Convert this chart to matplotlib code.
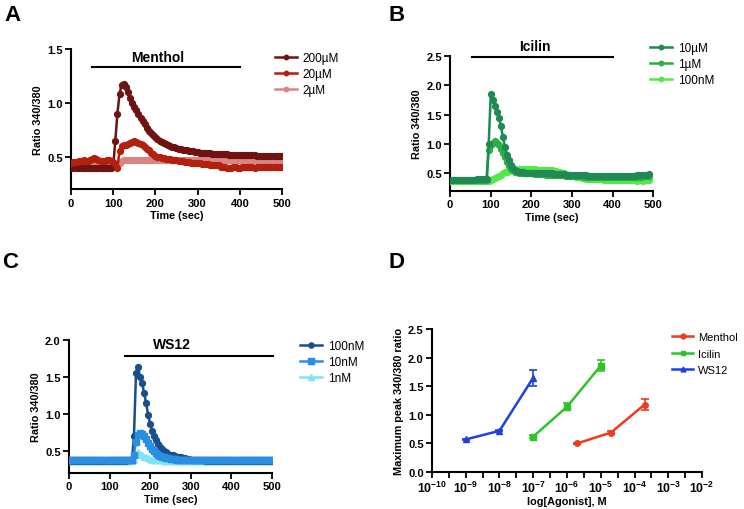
import numpy as np
import matplotlib
matplotlib.use("Agg")
import matplotlib.pyplot as plt
from matplotlib import font_manager as fm

# keep the narrow Liberation variant from being picked for bold text
fm.fontManager.ttflist = [f for f in fm.fontManager.ttflist if 'Narrow' not in f.fname]
plt.rcParams['font.family'] = ['Liberation Sans', 'DejaVu Sans']
plt.rcParams['mathtext.fontset'] = 'custom'
plt.rcParams['mathtext.rm'] = 'Liberation Sans'
plt.rcParams['mathtext.bf'] = 'Liberation Sans:bold'

# ---- panel A: menthol traces (time step 5 s) ----
t_a = np.arange(0, 505, 5)
menthol_200uM = [
    0.40, 0.40, 0.41, 0.40, 0.40, 0.40, 0.40, 0.40, 0.40, 0.40, 0.40, 0.40, 0.40, 0.40, 0.40, 0.40, 0.40, 0.40, 0.40, 0.40, 0.41,
    0.65, 0.90, 1.08, 1.17, 1.18, 1.15, 1.10, 1.05, 1.00, 0.96, 0.93, 0.90, 0.86, 0.83, 0.80, 0.77, 0.74, 0.72, 0.70, 0.68,
    0.665, 0.65, 0.64, 0.63, 0.62, 0.61, 0.60, 0.595, 0.59, 0.58, 0.575, 0.57, 0.565, 0.56, 0.56, 0.555, 0.55, 0.55, 0.545, 0.545,
    0.54, 0.54, 0.54, 0.535, 0.535, 0.535, 0.53, 0.53, 0.53, 0.53, 0.525, 0.525, 0.525, 0.525, 0.52, 0.52, 0.52, 0.52, 0.52, 0.52,
    0.52, 0.515, 0.515, 0.515, 0.515, 0.515, 0.515, 0.51, 0.51, 0.51, 0.51, 0.51, 0.51, 0.51, 0.51, 0.51, 0.51, 0.51, 0.51, 0.51]
menthol_20uM = [
    0.44, 0.45, 0.45, 0.45, 0.46, 0.46, 0.47, 0.46, 0.46, 0.47, 0.48, 0.49, 0.48, 0.47, 0.46, 0.46, 0.46, 0.47, 0.47, 0.46, 0.45,
    0.43, 0.40, 0.55, 0.60, 0.61, 0.61, 0.62, 0.63, 0.64, 0.65, 0.64, 0.63, 0.62, 0.61, 0.59, 0.57, 0.56, 0.54, 0.53, 0.51,
    0.50, 0.50, 0.49, 0.49, 0.48, 0.48, 0.48, 0.47, 0.47, 0.47, 0.46, 0.46, 0.46, 0.45, 0.45, 0.45, 0.44, 0.44, 0.44, 0.44,
    0.44, 0.43, 0.43, 0.43, 0.43, 0.42, 0.42, 0.42, 0.42, 0.42, 0.41, 0.41, 0.41, 0.40, 0.40, 0.40, 0.41, 0.41, 0.40, 0.40,
    0.41, 0.41, 0.41, 0.41, 0.41, 0.41, 0.40, 0.41, 0.41, 0.41, 0.41, 0.41, 0.41, 0.41, 0.41, 0.41, 0.41, 0.41, 0.41, 0.41]
menthol_2uM = [
    0.43, 0.43, 0.43, 0.43, 0.43, 0.43, 0.43, 0.43, 0.43, 0.43, 0.43, 0.43, 0.43, 0.43, 0.43, 0.43, 0.43, 0.43, 0.43, 0.43, 0.43,
    0.43, 0.43, 0.44, 0.46, 0.47, 0.47, 0.47, 0.47, 0.47, 0.47, 0.47, 0.47, 0.47, 0.47, 0.47, 0.47, 0.47, 0.47, 0.47, 0.47,
    0.47, 0.47, 0.47, 0.47, 0.47, 0.47, 0.47, 0.47, 0.47, 0.47, 0.47, 0.47, 0.47, 0.47, 0.47, 0.47, 0.47, 0.47, 0.47, 0.47,
    0.47, 0.47, 0.47, 0.47, 0.47, 0.47, 0.47, 0.47, 0.47, 0.47, 0.47, 0.47, 0.47, 0.47, 0.47, 0.47, 0.47, 0.47, 0.47, 0.47,
    0.47, 0.47, 0.47, 0.47, 0.47, 0.47, 0.47, 0.47, 0.47, 0.47, 0.47, 0.47, 0.47, 0.47, 0.47, 0.47, 0.47, 0.47, 0.47, 0.47]

# ---- panel B: icilin traces ----
t_b = np.arange(0, 495, 5)
icilin_10uM = [
    0.38, 0.38, 0.39, 0.38, 0.38, 0.38, 0.38, 0.39, 0.39, 0.39, 0.39, 0.39, 0.39, 0.40, 0.40, 0.40, 0.40, 0.40, 0.40,
    1.00, 1.85, 1.75, 1.65, 1.55, 1.45, 1.30, 1.12, 0.95, 0.82, 0.72, 0.64, 0.59, 0.56, 0.54, 0.53, 0.52, 0.52, 0.51, 0.51,
    0.51, 0.51, 0.51, 0.51, 0.50, 0.50, 0.50, 0.50, 0.50, 0.50, 0.50, 0.50, 0.49, 0.49, 0.49, 0.49, 0.49, 0.49, 0.48, 0.48,
    0.48, 0.48, 0.48, 0.47, 0.47, 0.47, 0.47, 0.47, 0.47, 0.46, 0.46, 0.46, 0.46, 0.46, 0.46, 0.46, 0.46, 0.46, 0.46, 0.46,
    0.46, 0.46, 0.46, 0.46, 0.46, 0.46, 0.46, 0.46, 0.46, 0.46, 0.46, 0.46, 0.46, 0.47, 0.47, 0.47, 0.47, 0.47, 0.48, 0.49]
icilin_1uM = [
    0.39, 0.39, 0.38, 0.39, 0.39, 0.39, 0.38, 0.39, 0.39, 0.39, 0.39, 0.39, 0.39, 0.39, 0.39, 0.39, 0.39, 0.39, 0.39,
    0.90, 0.98, 1.02, 1.05, 1.02, 0.98, 0.92, 0.85, 0.78, 0.70, 0.63, 0.58, 0.55, 0.53, 0.52, 0.51, 0.51, 0.50, 0.50, 0.50,
    0.50, 0.50, 0.50, 0.49, 0.49, 0.49, 0.49, 0.49, 0.48, 0.48, 0.48, 0.48, 0.48, 0.47, 0.47, 0.47, 0.47, 0.47, 0.46, 0.46,
    0.46, 0.46, 0.45, 0.45, 0.45, 0.45, 0.45, 0.44, 0.44, 0.44, 0.44, 0.44, 0.44, 0.44, 0.44, 0.44, 0.44, 0.44, 0.44, 0.44,
    0.44, 0.44, 0.44, 0.44, 0.44, 0.44, 0.44, 0.44, 0.44, 0.44, 0.44, 0.44, 0.44, 0.44, 0.44, 0.44, 0.45, 0.45, 0.45, 0.45]
icilin_100nM = [
    0.37, 0.37, 0.37, 0.37, 0.37, 0.37, 0.37, 0.37, 0.37, 0.37, 0.37, 0.37, 0.37, 0.37, 0.37, 0.37, 0.37, 0.37, 0.37,
    0.37, 0.38, 0.40, 0.42, 0.44, 0.46, 0.48, 0.50, 0.52, 0.53, 0.54, 0.55, 0.55, 0.56, 0.56, 0.57, 0.58, 0.58, 0.58, 0.58,
    0.58, 0.57, 0.57, 0.57, 0.56, 0.56, 0.56, 0.56, 0.55, 0.55, 0.55, 0.55, 0.54, 0.54, 0.53, 0.52, 0.51, 0.50, 0.49, 0.48,
    0.47, 0.46, 0.45, 0.44, 0.43, 0.43, 0.42, 0.42, 0.41, 0.41, 0.41, 0.40, 0.40, 0.40, 0.40, 0.40, 0.40, 0.39, 0.39, 0.39,
    0.39, 0.39, 0.39, 0.38, 0.38, 0.38, 0.38, 0.38, 0.38, 0.38, 0.38, 0.38, 0.38, 0.37, 0.38, 0.38, 0.37, 0.38, 0.38, 0.38]

# ---- panel C: WS12 traces ----
t_c = np.arange(0, 505, 5)
ws12_100nM = [
    0.36, 0.36, 0.36, 0.36, 0.36, 0.36, 0.36, 0.36, 0.36, 0.36, 0.36, 0.36, 0.36, 0.36, 0.36, 0.36, 0.36, 0.36, 0.36, 0.36, 0.36,
    0.36, 0.36, 0.36, 0.36, 0.36, 0.36, 0.36, 0.36, 0.37, 0.37, 0.37, 0.70, 1.55, 1.63, 1.50, 1.42, 1.28, 1.14, 0.98, 0.86,
    0.77, 0.70, 0.64, 0.59, 0.55, 0.52, 0.50, 0.48, 0.46, 0.45, 0.44, 0.43, 0.42, 0.41, 0.41, 0.40, 0.40, 0.39, 0.39, 0.38,
    0.38, 0.38, 0.37, 0.37, 0.37, 0.37, 0.36, 0.36, 0.36, 0.36, 0.36, 0.36, 0.36, 0.36, 0.36, 0.36, 0.36, 0.36, 0.36, 0.36,
    0.36, 0.36, 0.36, 0.36, 0.36, 0.36, 0.36, 0.36, 0.36, 0.36, 0.36, 0.36, 0.36, 0.36, 0.36, 0.36, 0.36, 0.36, 0.36, 0.36]
ws12_10nM = [
    0.37, 0.37, 0.37, 0.37, 0.37, 0.37, 0.37, 0.37, 0.37, 0.37, 0.37, 0.37, 0.37, 0.37, 0.37, 0.37, 0.37, 0.37, 0.37, 0.37, 0.37,
    0.37, 0.37, 0.37, 0.37, 0.37, 0.37, 0.37, 0.37, 0.37, 0.37, 0.37, 0.45, 0.62, 0.72, 0.74, 0.73, 0.70, 0.66, 0.61, 0.57,
    0.53, 0.50, 0.47, 0.45, 0.43, 0.42, 0.41, 0.40, 0.40, 0.39, 0.39, 0.39, 0.38, 0.38, 0.38, 0.38, 0.38, 0.38, 0.38, 0.38,
    0.38, 0.38, 0.38, 0.38, 0.38, 0.38, 0.38, 0.38, 0.38, 0.38, 0.38, 0.38, 0.38, 0.38, 0.38, 0.38, 0.38, 0.38, 0.38, 0.38,
    0.38, 0.38, 0.38, 0.38, 0.38, 0.38, 0.38, 0.38, 0.38, 0.38, 0.38, 0.38, 0.38, 0.38, 0.38, 0.38, 0.38, 0.38, 0.38, 0.38]
ws12_1nM = [
    0.36, 0.36, 0.36, 0.36, 0.36, 0.36, 0.36, 0.36, 0.36, 0.36, 0.36, 0.36, 0.36, 0.36, 0.36, 0.36, 0.36, 0.36, 0.36, 0.36, 0.36,
    0.36, 0.36, 0.36, 0.36, 0.36, 0.36, 0.36, 0.36, 0.36, 0.36, 0.36, 0.38, 0.45, 0.48, 0.46, 0.44, 0.42, 0.41, 0.40, 0.39,
    0.38, 0.38, 0.37, 0.37, 0.37, 0.37, 0.36, 0.36, 0.36, 0.36, 0.36, 0.36, 0.36, 0.36, 0.36, 0.36, 0.36, 0.36, 0.36, 0.36,
    0.36, 0.36, 0.36, 0.36, 0.36, 0.36, 0.36, 0.36, 0.36, 0.36, 0.36, 0.36, 0.36, 0.36, 0.36, 0.36, 0.36, 0.36, 0.36, 0.36,
    0.36, 0.36, 0.36, 0.36, 0.36, 0.36, 0.36, 0.36, 0.36, 0.36, 0.36, 0.36, 0.36, 0.36, 0.36, 0.36, 0.36, 0.36, 0.36, 0.36]

# ---- panel D: dose response ----
menthol_conc = [2e-6, 2e-5, 2e-4]
menthol_peak = [0.50, 0.69, 1.18]
menthol_err = [0.01, 0.02, 0.09]
icilin_conc = [1e-7, 1e-6, 1e-5]
icilin_peak = [0.62, 1.14, 1.86]
icilin_err = [0.03, 0.06, 0.09]
ws12_conc = [1e-9, 1e-8, 1e-7]
ws12_peak = [0.57, 0.72, 1.65]
ws12_err = [0.01, 0.01, 0.14]

LW, MS = 1.8, 4.2
TICK_FS, LAB_FS, LEG_FS = 8, 7.8, 8.5

fig = plt.figure(figsize=(7.44, 5.10), dpi=100)

axA = fig.add_axes([0.0954, 0.627, 0.2836, 0.275])
axB = fig.add_axes([0.605, 0.6235, 0.273, 0.265])
axC = fig.add_axes([0.0927, 0.0706, 0.273, 0.261])
axD = fig.add_axes([0.5806, 0.0725, 0.363, 0.2804])


def style(ax):
    for s in ['top', 'right']:
        ax.spines[s].set_visible(False)
    for s in ['left', 'bottom']:
        ax.spines[s].set_linewidth(1.5)
    ax.tick_params(direction='out', length=4, width=1.3, labelsize=TICK_FS, pad=2)
    for lab in ax.get_xticklabels() + ax.get_yticklabels():
        lab.set_fontweight('bold')


def add_legend(handles, labels, x, y, spacing=0.35, fs=LEG_FS):
    fig.legend(handles, labels, loc='upper left',
               bbox_to_anchor=(x / 744, 1 - y / 510), frameon=False,
               fontsize=fs, borderpad=0, borderaxespad=0, handlelength=1.9,
               handletextpad=0.45, labelspacing=spacing)


def time_axis(ax, ymax, yticks):
    ax.set_xlim(0, 500)
    ax.set_ylim(0.2, ymax)
    ax.set_yticks(yticks)
    ax.set_xticks([0, 100, 200, 300, 400, 500])
    ax.set_ylabel('Ratio 340/380', fontsize=LAB_FS, fontweight='bold', labelpad=3)
    ax.set_xlabel('Time (sec)', fontsize=LAB_FS, fontweight='bold', labelpad=2)


# A
sA = [('200µM', menthol_200uM, '#6e1212'), ('20µM', menthol_20uM, '#b3200f'), ('2µM', menthol_2uM, '#d98585')]
for z, i in enumerate([2, 0, 1]):
    lab, y, c = sA[i]
    axA.plot(t_a, y, '-o', color=c, lw=LW, ms=MS, zorder=3 + z)
time_axis(axA, 1.5, [0.5, 1.0, 1.5])
axA.plot([50, 400], [1.33, 1.33], color='black', lw=1.5, clip_on=False)
axA.text(206, 1.36, 'Menthol', ha='center', va='bottom', fontsize=10, fontweight='bold')
style(axA)
add_legend([plt.Line2D([], [], color=c, marker='o', lw=LW, ms=MS - 1) for _, _, c in sA],
           [s[0] for s in sA], 275, 53)

# B
sB = [('10µM', icilin_10uM, '#1f8a55'), ('1µM', icilin_1uM, '#2eae45'), ('100nM', icilin_100nM, '#55e84a')]
for z, i in enumerate([2, 1, 0]):
    lab, y, c = sB[i]
    axB.plot(t_b, y, '-o', color=c, lw=LW, ms=MS, zorder=3 + z)
time_axis(axB, 2.5, [0.5, 1.0, 1.5, 2.0, 2.5])
axB.plot([55, 400], [2.48, 2.48], color='black', lw=1.5, clip_on=False)
axB.text(209, 2.55, 'Icilin', ha='center', va='bottom', fontsize=10, fontweight='bold')
style(axB)
add_legend([plt.Line2D([], [], color=c, marker='o', lw=LW, ms=MS - 1) for _, _, c in sB],
           [s[0] for s in sB], 650, 43)

# C
sC = [('100nM', ws12_100nM, '#1b4f8c', 'o'), ('10nM', ws12_10nM, '#2a8fe3', 's'), ('1nM', ws12_1nM, '#7fe3f2', '^')]
for z, i in enumerate([2, 0, 1]):
    lab, y, c, m = sC[i]
    axC.plot(t_c, y, '-', marker=m, color=c, lw=LW, ms=MS, zorder=3 + z)
time_axis(axC, 2.0, [0.5, 1.0, 1.5, 2.0])
axC.plot([138, 502], [1.78, 1.78], color='black', lw=1.5, clip_on=False)
axC.text(253, 1.85, 'WS12', ha='center', va='bottom', fontsize=10, fontweight='bold')
style(axC)
add_legend([plt.Line2D([], [], color=c, marker=m, lw=LW, ms=MS - 0.5) for _, _, c, m in sC],
           [s[0] for s in sC], 300, 341)

# D
sD = [('Menthol', menthol_conc, menthol_peak, menthol_err, '#f03a1e', 'o'),
      ('Icilin', icilin_conc, icilin_peak, icilin_err, '#2fc22a', 's'),
      ('WS12', ws12_conc, ws12_peak, ws12_err, '#2040e0', '^')]
for lab, x, y, e, c, m in sD:
    axD.errorbar(x, y, yerr=e, color=c, marker=m, lw=1.8, ms=4, capsize=3, capthick=1.2, elinewidth=1.2)
axD.set_xscale('log')
axD.set_xlim(1e-10, 1e-2)
axD.set_ylim(0, 2.5)
axD.set_yticks([0, 0.5, 1.0, 1.5, 2.0, 2.5])
axD.set_yticklabels(['0.0', '0.5', '1.0', '1.5', '2.0', '2.5'])
decades = list(range(-10, -1))
axD.set_xticks([10.0 ** d for d in decades])
axD.set_xticklabels([r'$\mathbf{10^{%d}}$' % d for d in decades])
axD.set_xticks([10.0 ** (d + 0.5) for d in decades[:-1]], minor=True)
axD.tick_params(which='minor', length=4, width=1.3)
axD.set_ylabel('Maximum peak 340/380 ratio', fontsize=LAB_FS, fontweight='bold', labelpad=3)
axD.set_xlabel('log[Agonist], M', fontsize=LAB_FS, fontweight='bold', labelpad=1)
style(axD)
axD.tick_params(axis='x', which='major', labelsize=8.8, pad=1.5)
add_legend([plt.Line2D([], [], color=s[4], marker=s[5], lw=1.8, ms=3.5) for s in sD],
           [s[0] for s in sD], 672, 333, spacing=0.6, fs=8)

for lab, x, y in [('A', 0.006, 0.99), ('B', 0.522, 0.99), ('C', 0.003, 0.505), ('D', 0.522, 0.505)]:
    fig.text(x, y, lab, fontsize=16, fontweight='bold', va='top', ha='left')

fig.savefig('out.png', dpi=100)
